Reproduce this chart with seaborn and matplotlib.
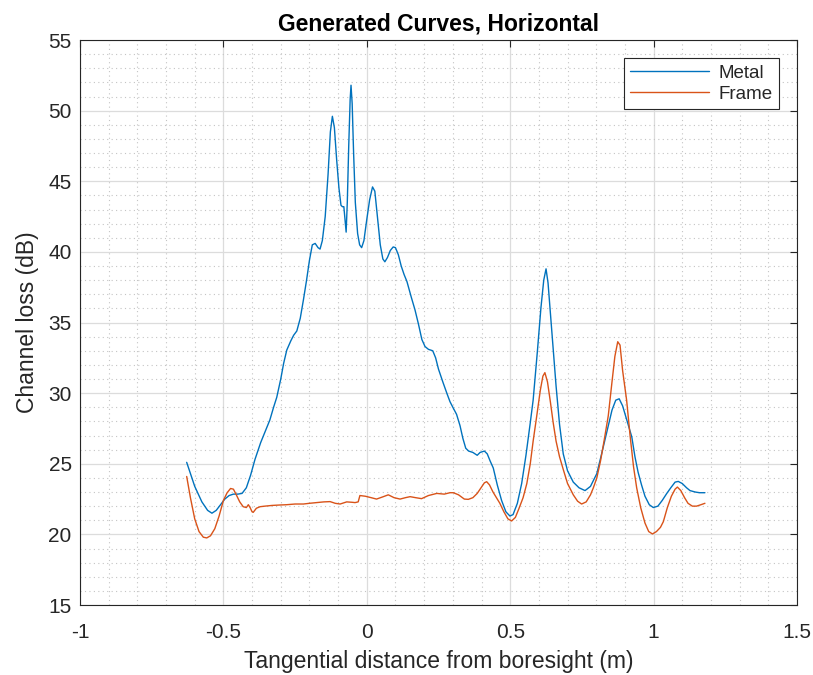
import numpy as np
import pandas as pd
import matplotlib
matplotlib.use("Agg")
import matplotlib.pyplot as plt
from matplotlib.ticker import MultipleLocator
import seaborn as sns

# Channel loss traces versus tangential distance
metal_x = [-0.628, -0.60, -0.575, -0.555, -0.54, -0.525, -0.51, -0.495, -0.48, -0.465,
           -0.45, -0.435, -0.42, -0.405, -0.39, -0.37, -0.35, -0.338, -0.325, -0.314,
           -0.30, -0.29, -0.279, -0.265, -0.255, -0.244, -0.232, -0.221, -0.21, -0.20,
           -0.19, -0.18, -0.17, -0.163, -0.155, -0.145, -0.135, -0.127, -0.12, -0.113,
           -0.105, -0.097, -0.09, -0.085, -0.08, -0.076, -0.072, -0.068, -0.063, -0.058,
           -0.055, -0.051, -0.046, -0.04, -0.032, -0.025, -0.018, -0.01, 0.0, 0.01,
           0.02, 0.028, 0.037, 0.047, 0.056, 0.063, 0.072, 0.082, 0.092, 0.10,
           0.11, 0.12, 0.13, 0.14, 0.155, 0.168, 0.18, 0.192, 0.203, 0.215,
           0.23, 0.24, 0.25, 0.265, 0.279, 0.29, 0.30, 0.313, 0.325, 0.335,
           0.345, 0.355, 0.37, 0.385, 0.395, 0.41, 0.42, 0.43, 0.441, 0.455,
           0.47, 0.485, 0.499, 0.51, 0.525, 0.54, 0.555, 0.57, 0.58, 0.595,
           0.607, 0.617, 0.625, 0.632, 0.64, 0.65, 0.66, 0.672, 0.685, 0.70,
           0.72, 0.74, 0.761, 0.78, 0.802, 0.82, 0.84, 0.855, 0.868, 0.88,
           0.892, 0.905, 0.915, 0.924, 0.935, 0.946, 0.958, 0.97, 0.985, 0.999,
           1.015, 1.03, 1.046, 1.06, 1.075, 1.086, 1.10, 1.115, 1.127, 1.145,
           1.16, 1.179]
metal_y = [25.1, 23.4, 22.3, 21.7, 21.5, 21.7, 22.1, 22.5, 22.75, 22.85,
           22.85, 22.9, 23.3, 24.2, 25.3, 26.5, 27.5, 28.1, 29.0, 29.7,
           31.0, 32.1, 33.05, 33.7, 34.1, 34.4, 35.3, 36.6, 38.0, 39.4,
           40.5, 40.6, 40.3, 40.2, 40.8, 42.5, 45.5, 48.5, 49.6, 48.8,
           46.5, 44.5, 43.3, 43.2, 43.2, 42.3, 41.4, 43.5, 47.5, 50.8,
           51.8, 50.5, 47.0, 43.5, 41.3, 40.5, 40.3, 40.8, 42.3, 43.7,
           44.6, 44.3, 42.5, 40.5, 39.5, 39.3, 39.6, 40.1, 40.35, 40.3,
           39.8, 39.0, 38.4, 37.9, 36.8, 35.9, 34.9, 33.8, 33.3, 33.1,
           33.0, 32.5, 31.7, 30.8, 30.0, 29.4, 29.0, 28.5, 27.7, 26.8,
           26.1, 25.9, 25.8, 25.6, 25.8, 25.9, 25.7, 25.2, 24.7, 23.5,
           22.4, 21.6, 21.3, 21.4, 22.2, 23.6, 25.6, 27.9, 29.5, 33.0,
           36.0, 38.0, 38.8, 37.8, 35.7, 33.0, 30.5, 27.8, 25.7, 24.5,
           23.7, 23.3, 23.1, 23.4, 24.3, 25.8, 27.5, 28.8, 29.5, 29.6,
           29.1, 28.2, 27.5, 26.9, 25.5, 24.4, 23.5, 22.7, 22.1, 21.9,
           22.0, 22.4, 22.9, 23.3, 23.7, 23.75, 23.6, 23.3, 23.1, 23.0,
           22.95, 22.95]

frame_x = [-0.628, -0.615, -0.60, -0.585, -0.57, -0.558, -0.545, -0.53, -0.515, -0.50,
           -0.487, -0.475, -0.465, -0.455, -0.443, -0.431, -0.42, -0.413, -0.407, -0.40,
           -0.396, -0.385, -0.372, -0.355, -0.33, -0.303, -0.28, -0.25, -0.221, -0.20,
           -0.175, -0.15, -0.128, -0.11, -0.093, -0.07, -0.05, -0.041, -0.03, -0.024,
           -0.005, 0.015, 0.034, 0.055, 0.075, 0.095, 0.116, 0.135, 0.151, 0.17,
           0.191, 0.215, 0.244, 0.27, 0.29, 0.302, 0.32, 0.34, 0.354, 0.37,
           0.385, 0.40, 0.41, 0.418, 0.428, 0.44, 0.452, 0.464, 0.478, 0.492,
           0.505, 0.518, 0.53, 0.545, 0.558, 0.57, 0.58, 0.592, 0.605, 0.614,
           0.621, 0.63, 0.64, 0.65, 0.66, 0.672, 0.685, 0.70, 0.72, 0.735,
           0.749, 0.765, 0.78, 0.79, 0.802, 0.815, 0.828, 0.842, 0.855, 0.865,
           0.875, 0.883, 0.892, 0.90, 0.906, 0.918, 0.93, 0.941, 0.955, 0.97,
           0.983, 0.996, 1.01, 1.024, 1.034, 1.048, 1.062, 1.075, 1.083, 1.095,
           1.108, 1.12, 1.135, 1.15, 1.165, 1.179]
frame_y = [24.1, 22.6, 21.1, 20.2, 19.8, 19.75, 19.9, 20.4, 21.3, 22.4,
           22.95, 23.25, 23.2, 22.8, 22.3, 21.96, 21.9, 22.1, 21.9, 21.6,
           21.56, 21.85, 21.96, 22.0, 22.05, 22.08, 22.1, 22.15, 22.15, 22.2,
           22.25, 22.3, 22.32, 22.2, 22.15, 22.3, 22.27, 22.25, 22.3, 22.75,
           22.7, 22.6, 22.5, 22.65, 22.8, 22.6, 22.5, 22.6, 22.67, 22.6,
           22.53, 22.75, 22.9, 22.85, 22.95, 22.95, 22.8, 22.5, 22.48, 22.6,
           22.9, 23.35, 23.65, 23.73, 23.5, 23.0, 22.6, 22.2, 21.6, 21.1,
           20.95, 21.2, 21.8, 22.6, 23.6, 25.0, 26.6, 28.3, 30.2, 31.2,
           31.45, 30.8, 29.4, 27.9, 26.6, 25.5, 24.6, 23.6, 22.8, 22.35,
           22.15, 22.3, 22.8, 23.3, 24.0, 25.2, 26.7, 28.4, 30.8, 32.6,
           33.64, 33.4, 31.6, 30.4, 29.5, 27.0, 24.8, 23.3, 21.9, 20.8,
           20.2, 20.03, 20.2, 20.5, 20.9, 21.9, 22.7, 23.2, 23.35, 23.1,
           22.6, 22.2, 22.0, 22.0, 22.1, 22.2]

series_names = ["Metal", "Frame"]
series_colors = ["#0072BD", "#D95319"]
x_ticks = [-1, -0.5, 0, 0.5, 1, 1.5]
x_tick_labels = ["-1", "-0.5", "0", "0.5", "1", "1.5"]
y_ticks = [15, 20, 25, 30, 35, 40, 45, 50, 55]

df = pd.concat([
    pd.DataFrame({"x": metal_x, "y": metal_y, "series": series_names[0]}),
    pd.DataFrame({"x": frame_x, "y": frame_y, "series": series_names[1]}),
], ignore_index=True)

sns.set_theme(style="white")
plt.rcParams["font.family"] = ["Liberation Sans", "DejaVu Sans"]

fig = plt.figure(figsize=(8.13, 6.75), dpi=100)
ax = fig.add_axes([0.0984, 0.1037, 0.8819, 0.8370])

sns.lineplot(data=df, x="x", y="y", hue="series", hue_order=series_names,
             palette=series_colors, sort=False, estimator=None,
             linewidth=1.0, ax=ax)

ax.set_xlim(-1, 1.5)
ax.set_ylim(15, 55)
ax.set_xticks(x_ticks)
ax.set_xticklabels(x_tick_labels)
ax.set_yticks(y_ticks)
ax.xaxis.set_minor_locator(MultipleLocator(0.1))
ax.yaxis.set_minor_locator(MultipleLocator(1))

axis_gray = "#262626"
ax.grid(which="major", color="#dcdcdc", linestyle="-", linewidth=0.9)
ax.grid(which="minor", color="#c4c4c4", linestyle=(0, (1, 3)), linewidth=0.8)
ax.set_axisbelow(True)
for side in ["left", "right", "top", "bottom"]:
    ax.spines[side].set_visible(True)
    ax.spines[side].set_color(axis_gray)
    ax.spines[side].set_linewidth(0.8)
ax.tick_params(which="major", direction="in", length=5, width=0.8,
               top=True, right=True, color=axis_gray, labelcolor=axis_gray,
               labelsize=15, pad=6)
ax.tick_params(axis="x", which="major", pad=13)
ax.tick_params(which="minor", direction="in", length=0, top=True, right=True)

ax.set_xlabel("Tangential distance from boresight (m)", fontsize=16.5, color=axis_gray, labelpad=6)
ax.set_ylabel("Channel loss (dB)", fontsize=16.5, color=axis_gray, labelpad=7)
ax.set_title("Generated Curves, Horizontal", fontsize=16.5, fontweight="bold", color="black", pad=7)

leg = ax.legend(loc="upper right", bbox_to_anchor=(0.975, 0.968), fontsize=13.5,
                frameon=True, fancybox=False, framealpha=1, edgecolor="#262626",
                handlelength=4.2, handletextpad=0.5, borderpad=0.35, labelspacing=0.2,
                borderaxespad=0)
leg.get_frame().set_linewidth(0.8)

fig.savefig("out.png", dpi=100, facecolor="white")
